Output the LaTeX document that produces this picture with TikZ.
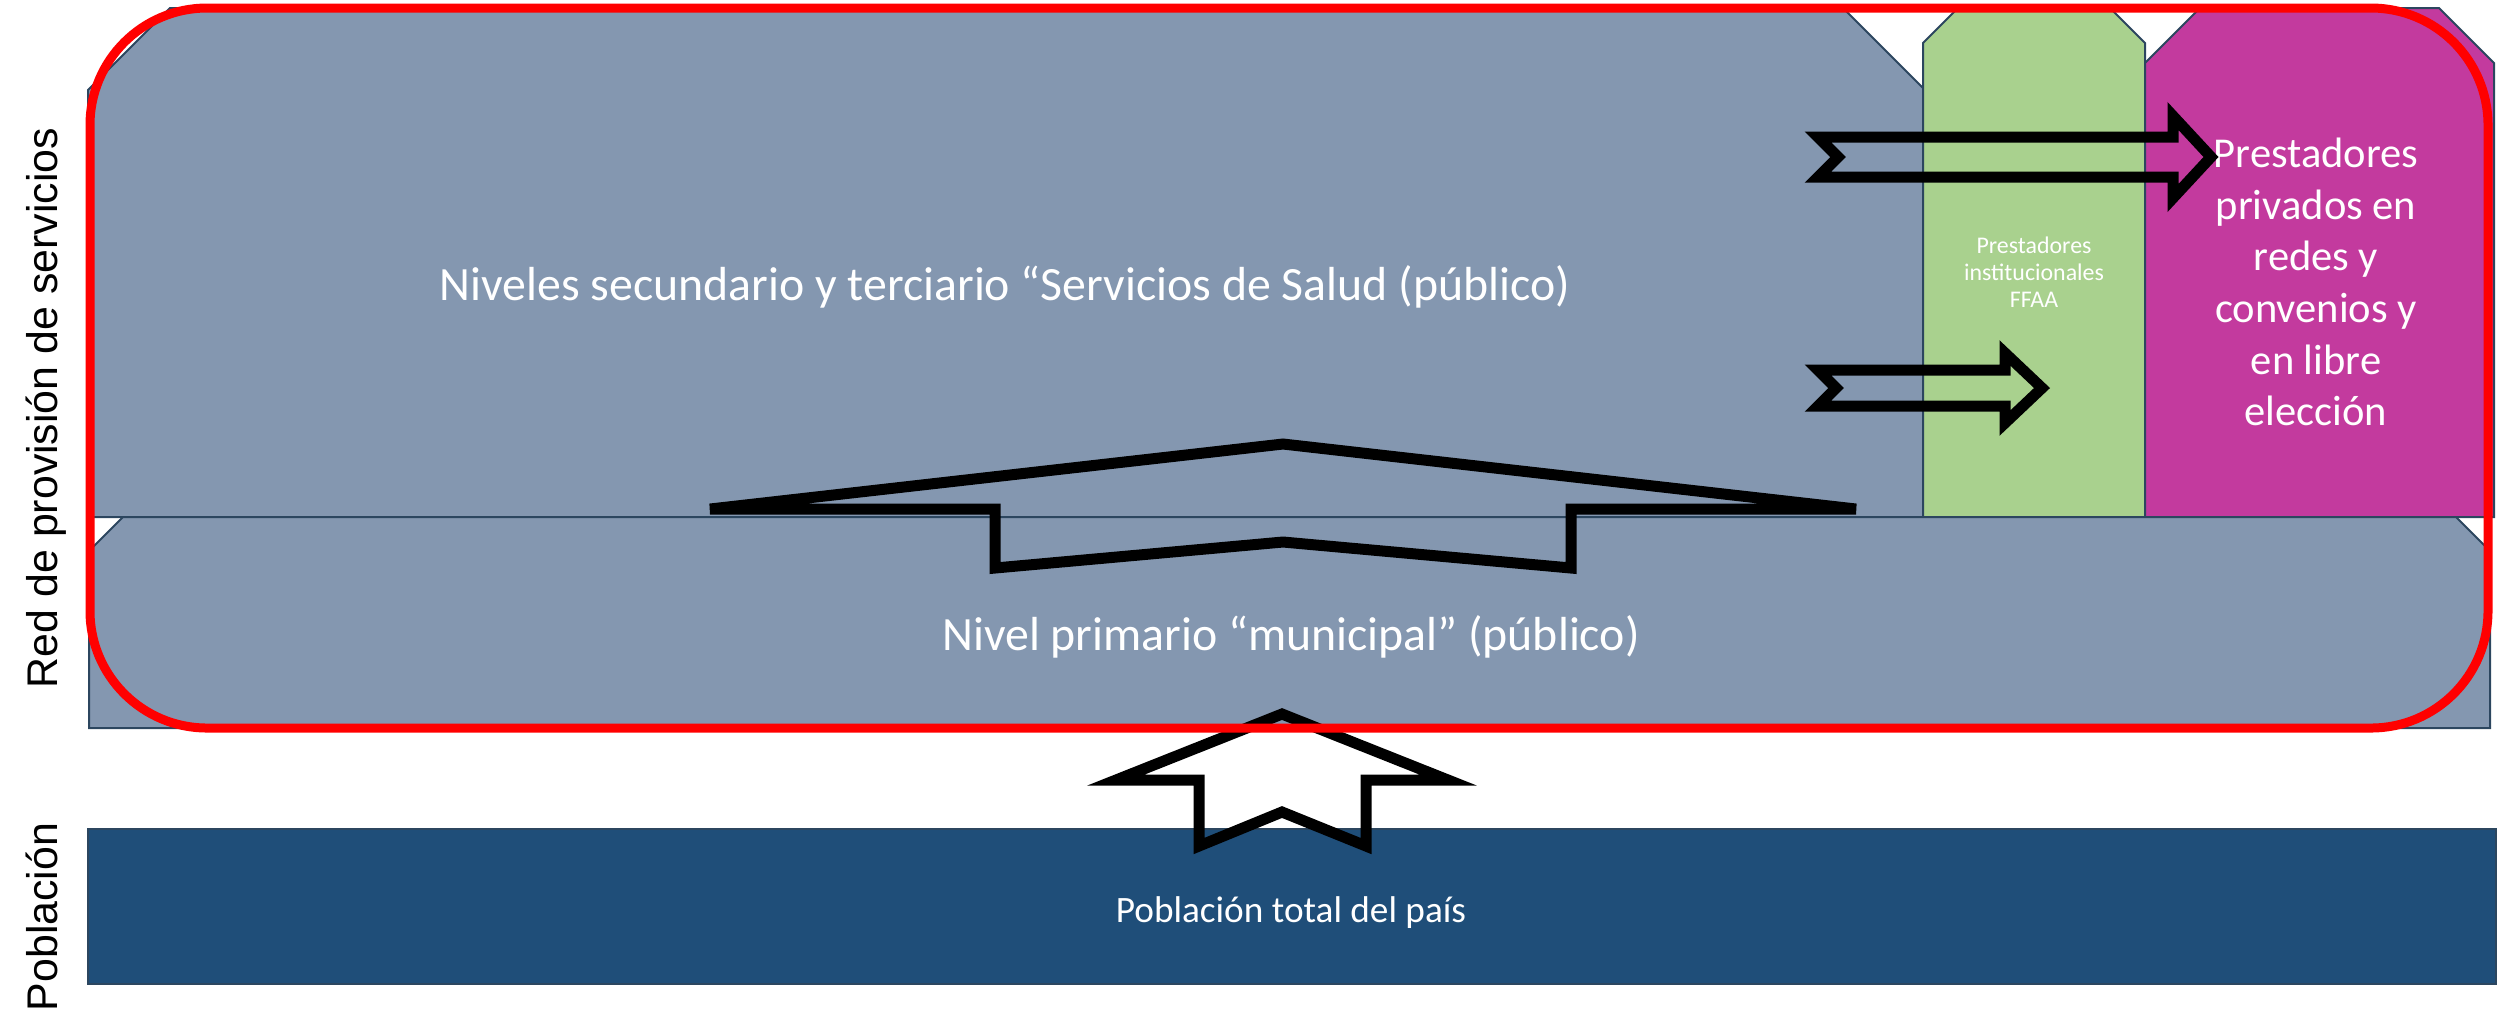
\documentclass[tikz,border=0pt]{standalone}
\usepackage{fontspec}
\setmainfont{Carlito}
\newfontfamily\arialf{Liberation Sans}
\definecolor{lblue}{HTML}{8497B0}
\definecolor{outl}{HTML}{2C465F}
\definecolor{ffgreen}{HTML}{A9D18E}
\definecolor{privmag}{HTML}{C33A9E}
\definecolor{bandblue}{HTML}{1F4E79}
\begin{document}
\begin{tikzpicture}[x=0.1mm,y=-0.1mm,
  shapeline/.style={draw=outl, line width=0.2mm, line join=miter},
  blockarrow/.style={draw=black, line width=1.1mm, line join=miter},
  maintext/.style={text=white, font=\fontsize{13.6}{16}\selectfont, inner sep=0pt},
  privtext/.style={text=white, align=center, font=\fontsize{12.1}{14.7}\selectfont, inner sep=0pt},
  fftext/.style={text=white, align=center, font=\fontsize{6.8}{7.7}\selectfont, inner sep=0pt},
  pobtext/.style={text=white, font=\fontsize{10.6}{13}\selectfont, inner sep=0pt},
  sidelabel/.style={text=black, font=\arialf\fontsize{12.2}{14}\selectfont, inner sep=0pt, rotate=90, anchor=base}]
\useasboundingbox (0,0) rectangle (2503,1008);
% upper public block
\path[shapeline, fill=lblue] (88,90) -- (170,8) -- (1843,8) -- (1923,88) -- (1923,517) -- (88,517) -- cycle;
% FFAA block
\path[shapeline, fill=ffgreen] (1923,43) -- (1956,10) -- (2112,10) -- (2145,43) -- (2145,517) -- (1923,517) -- cycle;
% private block
\path[shapeline, fill=privmag] (2145,63) -- (2200,8) -- (2439,8) -- (2494,63) -- (2494,517) -- (2145,517) -- cycle;
% lower primary block
\path[shapeline, fill=lblue] (89,551) -- (123,517) -- (2456,517) -- (2490,551) -- (2490,728) -- (89,728) -- cycle;
% population band
\path[shapeline, fill=bandblue] (88,829) rectangle (2496,984);
% texts
\node[maintext, anchor=base] (sec) at (1005,300) {Niveles secundario y terciario “Servicios de Salud (público)};
\node[maintext, anchor=base] (pri) at (1291,650) {Nivel primario “municipal” (público)};
\node[pobtext, anchor=base] (pob) at (1291,922) {Población total del país};
\node[privtext] (priv) at (2316,282) {Prestadores\\privados en\\redes y\\convenios y\\en libre\\elección};
\node[fftext] (ffaa) at (2034,272) {Prestadores\\institucionales\\FFAA};
\node[sidelabel] (redlab) at (57,408) {Red de provisión de servicios};
\node[sidelabel] (poblab) at (57,917) {Población};
% block arrows
\draw[blockarrow] (1282,714) -- (1448,780) -- (1366,780) -- (1366,846) -- (1282,812) -- (1199,846) -- (1199,780) -- (1116,780) -- cycle;
\draw[blockarrow] (1283,444) -- (1856,509) -- (1571,509) -- (1571,568) -- (1283,542) -- (995,568) -- (995,509) -- (710,509) -- cycle;
\draw[blockarrow] (1818,137) -- (2173,137) -- (2173,116) -- (2211,157) -- (2173,198) -- (2173,177) -- (1818,177) -- (1838,157) -- cycle;
\draw[blockarrow] (1818,370) -- (2005,370) -- (2005,353) -- (2042,388) -- (2005,423) -- (2005,406) -- (1818,406) -- (1836,388) -- cycle;
% red frame
\draw[red, line width=0.9mm, rounded corners=11.7mm] (90,8) rectangle (2488,728);
\end{tikzpicture}
\end{document}
